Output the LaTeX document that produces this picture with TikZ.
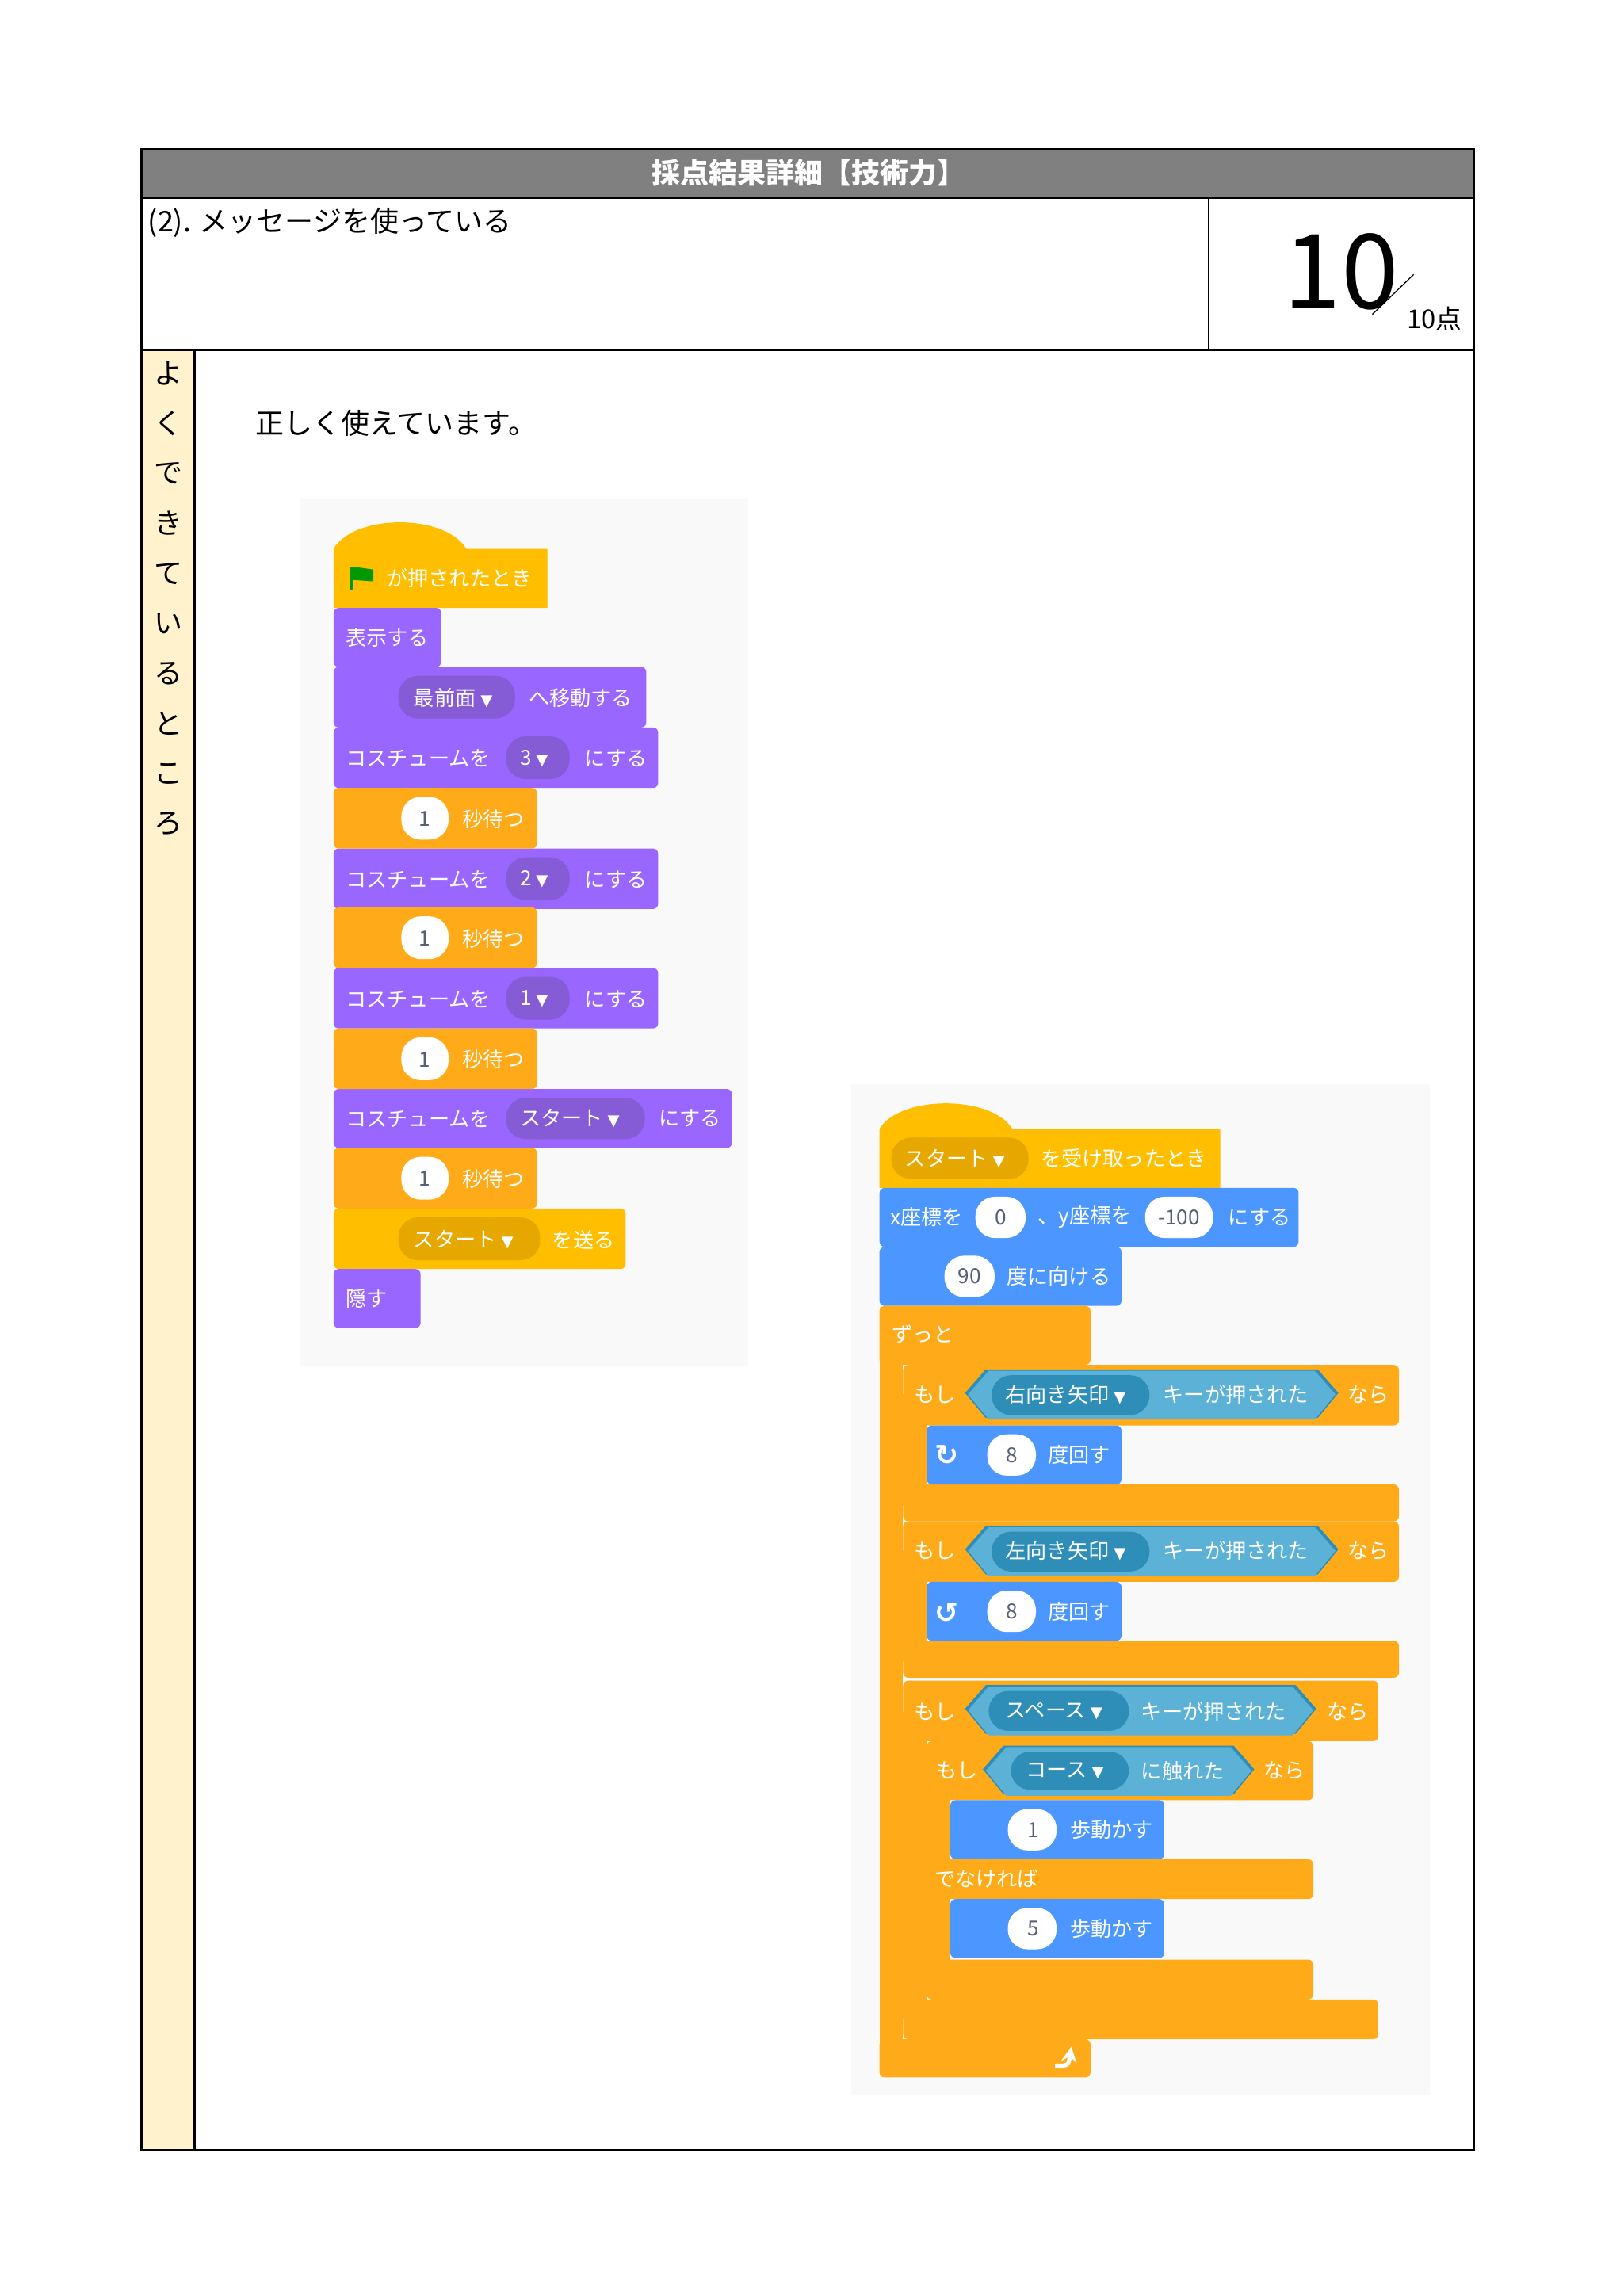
\documentclass[tikz,border=0pt]{standalone}
\usepackage{fontspec}
\setmainfont{Noto Sans CJK JP}
\newfontfamily\symb{DejaVu Sans}
\usetikzlibrary{positioning}
\definecolor{kopf}{rgb}{0.5,0.5,0.5}
\definecolor{seite}{rgb}{1.0,0.95,0.8}
\definecolor{flaeche}{rgb}{0.976,0.976,0.976}
\definecolor{aussehen}{HTML}{9966FF}
\definecolor{aussehendk}{HTML}{855CD6}
\definecolor{steuer}{HTML}{FFAB19}
\definecolor{ereignis}{HTML}{FFBF00}
\definecolor{ereignisdk}{HTML}{E6A800}
\definecolor{bewegung}{HTML}{4C97FF}
\definecolor{fuehlen}{HTML}{5CB1D6}
\definecolor{fuehlendk}{HTML}{2E8EB8}
\definecolor{zahl}{HTML}{575E75}
\newcommand{\blk}[5]{\fill[#1, rounded corners=2pt] (#2,#3) rectangle (#4,#5);}
\newcommand{\arm}[5]{\fill[#1] (#2,#3) rectangle (#4,#5);}
\newcommand{\pill}[5]{\fill[#1, rounded corners=7.5pt] (#2,#3) rectangle (#4,#5);}
\newcommand{\hexa}[4]{\fill[#1] (#2,#3+16) -- (#2+14,#3) -- (#4-14,#3) -- (#4,#3+16) -- (#4-14,#3+33) -- (#2+14,#3+33) -- cycle;}
\newcommand{\dd}{{\symb\fontsize{6}{6}\selectfont ▼}}
\tikzset{
  bt/.style={anchor=west, text=white, font=\fontsize{8}{9}\selectfont, inner sep=0pt},
  nt/.style={text=zahl, font=\fontsize{8}{9}\selectfont, inner sep=0pt},
  vt/.style={font=\fontsize{11}{12}\selectfont, inner sep=0pt}
}
\begin{document}
\begin{tikzpicture}[x=0.02cm, y=-0.02cm]
\useasboundingbox[fill=white] (0,0) rectangle (1100,1556);
% table
\fill[kopf] (96,101) rectangle (999,134);
\fill[seite] (96,237) rectangle (132,1457);
\draw[thick] (96,101) rectangle (999,1457);
\draw[thick] (96,134) -- (999,134);
\draw[thick] (96,237) -- (999,237);
\draw[thick] (819,134) -- (819,237);
\draw[thick] (132,237) -- (132,1457);
\node[text=white, font=\fontsize{11}{12}\selectfont\bfseries] (titel) at (548,117) {採点結果詳細【技術力】};
\node[vt, anchor=west] (frage) at (100,151) {(2). メッセージを使っている};
\node[font=\fontsize{40}{40}\selectfont, inner sep=0pt] (punkte) at (909,184) {10};
\draw (930,213) -- (958,186);
\node[font=\fontsize{10}{11}\selectfont, inner sep=0pt] (voll) at (972,216) {10点};
\foreach \c [count=\i from 0] in {よ,く,で,き,て,い,る,と,こ,ろ}
  \node[vt] (s\i) at (114,253+33.9*\i) {\c};
\node[vt, anchor=west] (lob) at (173,287) {正しく使えています。};

%panel 1
\fill[flaeche] (203,338) rectangle (507,926);
\fill[ereignis] (226,412) -- (226,372) .. controls (240,348) and (302,348) .. (316,372) -- (371,372) -- (371,412) -- cycle;
\fill[green!60!black] (237,384) rectangle (239,400);
\fill[green!60!black] (239,384) -- (253,386) -- (253,394) -- (239,393) -- cycle;
\node[bt] (hut) at (262,392) {が押されたとき};
\blk{aussehen}{226}{412}{299}{452}
\node[bt] (zeigen) at (234,432) {表示する};
\blk{aussehen}{226}{452}{438}{493}
\pill{aussehendk}{270}{458}{349}{487}
\node[bt] (vorne) at (280,473) {最前面\ \dd};
\node[bt] at (358,473) {へ移動する};
\foreach \y/\v/\w in {493/3/386, 575/2/386, 656/1/386}{
  \blk{aussehen}{226}{\y}{446}{\y+41}
  \pill{aussehendk}{343}{\y+6}{\w}{\y+35}
  \node[bt] at (234,\y+21) {コスチュームを};
  \node[bt] at (352,\y+21) {\v\ \dd};
  \node[bt] at (396,\y+21) {にする};
}
\blk{aussehen}{226}{738}{496}{778}
\pill{aussehendk}{343}{744}{437}{772}
\node[bt] (kost) at (234,758) {コスチュームを};
\node[bt] at (352,758) {スタート\ \dd};
\node[bt] at (446,758) {にする};
\foreach \y in {534,615,697,778}{
  \blk{steuer}{226}{\y}{364}{\y+41}
  \pill{white}{272}{\y+6}{304}{\y+35}
  \node[nt] at (288,\y+21) {1};
  \node[bt] at (313,\y+21) {秒待つ};
}
\blk{ereignis}{226}{819}{424}{860}
\pill{ereignisdk}{270}{825}{366}{854}
\node[bt] (senden) at (280,840) {スタート\ \dd};
\node[bt] at (374,840) {を送る};
\blk{aussehen}{226}{860}{285}{900}
\node[bt] (weg) at (234,880) {隠す};

%panel 2
\fill[flaeche] (577,735) rectangle (969,1420);
\fill[ereignis] (596,805) -- (596,765) .. controls (610,742) and (672,742) .. (686,765) -- (827,765) -- (827,805) -- cycle;
\pill{ereignisdk}{604}{771}{697}{799}
\node[bt] (empf) at (613,785) {スタート\ \dd};
\node[bt] at (705,785) {を受け取ったとき};
\blk{bewegung}{596}{805}{880}{845}
\pill{white}{661}{811}{695}{839}
\pill{white}{776}{811}{822}{839}
\node[bt] (geh) at (603,825) {x座標を};
\node[nt] at (678,825) {0};
\node[bt] at (703,825) {、y座標を};
\node[nt] at (799,825) {-100};
\node[bt] at (832,825) {にする};
\blk{bewegung}{596}{845}{760}{885}
\pill{white}{640}{851}{674}{879}
\node[nt] (richt) at (657,865) {90};
\node[bt] at (682,865) {度に向ける};
% forever
\blk{steuer}{596}{885}{739}{925}
\arm{steuer}{596}{905}{612}{1395}
\blk{steuer}{596}{1382}{739}{1408}
\node[bt] (immer) at (604,904) {ずっと};
\coordinate (schleifeA) at (715,1400);
\coordinate (schleifeB) at (726,1387);
\draw[white, line width=1.6pt, -stealth] (schleifeA) .. controls (724,1400) .. (schleifeB);
% if 1 and 2
\foreach \y/\d in {925/右向き矢印, 1031/左向き矢印}{
  \blk{steuer}{612}{\y}{948}{\y+41}
  \arm{steuer}{612}{\y+20}{628}{\y+95}
  \blk{steuer}{612}{\y+81}{948}{\y+106}
  \hexa{fuehlendk}{654}{\y+3}{907}
  \hexa{fuehlen}{656}{\y+4}{905}
  \pill{fuehlendk}{672}{\y+7}{779}{\y+34}
  \node[bt] at (619,\y+20) {もし};
  \node[bt] at (681,\y+20) {\d\ \dd};
  \node[bt] at (788,\y+20) {キーが押された};
  \node[bt] at (913,\y+20) {なら};
  \blk{bewegung}{628}{\y+41}{760}{\y+81}
  \pill{white}{669}{\y+47}{702}{\y+75}
  \node[nt] at (686,\y+61) {8};
  \node[bt] at (710,\y+61) {度回す};
}
\node[bt, font=\symb\fontsize{11}{11}\selectfont\bfseries] (rechts) at (633,986) {↻};
\node[bt, font=\symb\fontsize{11}{11}\selectfont\bfseries] (links) at (633,1093) {↺};
% if 3
\blk{steuer}{612}{1139}{934}{1180}
\arm{steuer}{612}{1160}{628}{1368}
\blk{steuer}{612}{1355}{934}{1382}
\hexa{fuehlendk}{654}{1142}{892}
\hexa{fuehlen}{656}{1143}{890}
\pill{fuehlendk}{670}{1146}{765}{1173}
\node[bt] (taste) at (619,1160) {もし};
\node[bt] at (681,1160) {スペース\ \dd};
\node[bt] at (773,1160) {キーが押された};
\node[bt] at (899,1160) {なら};
% if else
\blk{steuer}{628}{1180}{890}{1220}
\arm{steuer}{628}{1200}{644}{1340}
\blk{steuer}{628}{1260}{890}{1287}
\blk{steuer}{628}{1328}{890}{1355}
\hexa{fuehlendk}{666}{1183}{850}
\hexa{fuehlen}{668}{1184}{848}
\pill{fuehlendk}{685}{1187}{765}{1213}
\node[bt] (ber) at (634,1200) {もし};
\node[bt] at (695,1200) {コース\ \dd};
\node[bt] at (773,1200) {に触れた};
\node[bt] at (856,1200) {なら};
\node[bt] (sonst) at (633,1273) {でなければ};
\foreach \y/\n in {1220/1, 1287/5}{
  \blk{bewegung}{644}{\y}{789}{\y+40}
  \pill{white}{683}{\y+6}{716}{\y+34}
  \node[nt] at (700,\y+20) {\n};
  \node[bt] at (725,\y+20) {歩動かす};
}
\end{tikzpicture}
\end{document}
